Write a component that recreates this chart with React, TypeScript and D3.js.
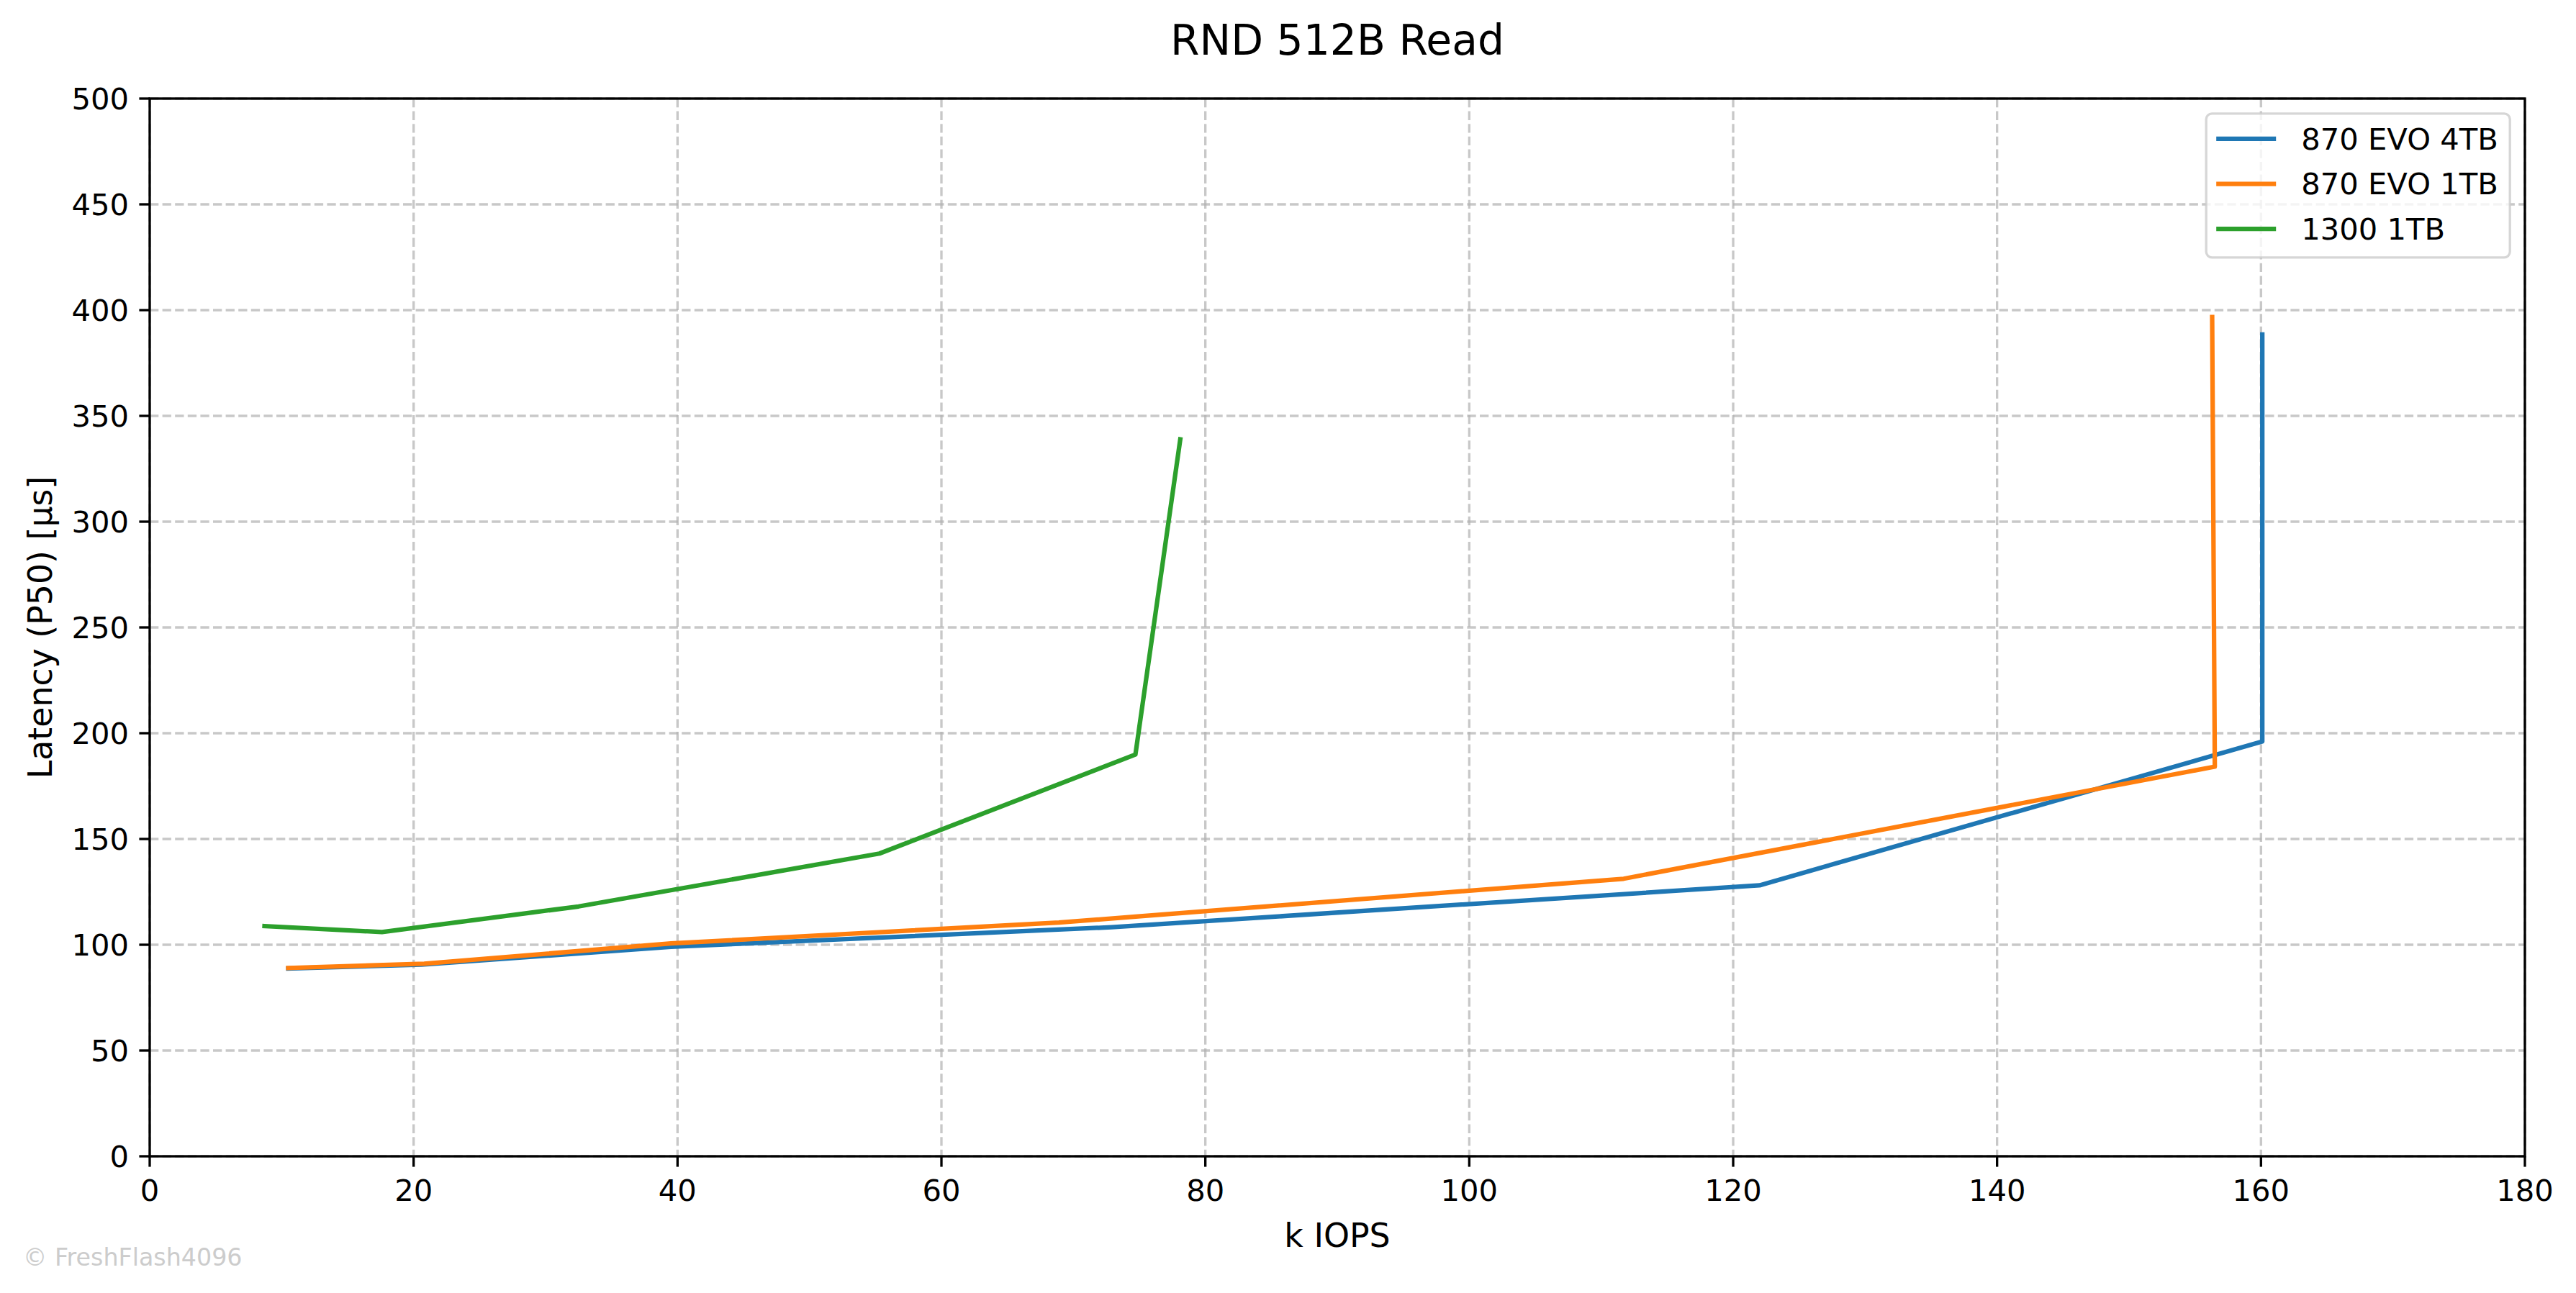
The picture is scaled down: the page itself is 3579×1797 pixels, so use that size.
import React, { useEffect } from 'react';
import * as d3 from 'd3';

const W = 3579, H = 1797;
const plot = { left: 208, right: 3508, top: 137, bottom: 1607 };

// k IOPS / latency [µs]
const evo4tbIops = [10.5, 20.6, 39.5, 72.9, 122.0, 160.1, 160.1];
const evo4tbLat = [88.8, 90.6, 99.0, 108.3, 128.1, 196.1, 388.5];
const evo1tbIops = [10.5, 20.8, 39.5, 68.9, 111.7, 156.5, 156.3];
const evo1tbLat = [89.0, 91.0, 100.6, 110.5, 131.2, 184.2, 396.7];
const s1300Iops = [8.7, 17.6, 32.5, 55.3, 74.7, 78.1];
const s1300Lat = [108.8, 106.0, 118.1, 143.1, 189.9, 338.9];

const seriesNames = ['870 EVO 4TB', '870 EVO 1TB', '1300 1TB'];
const seriesColors = ['#1f77b4', '#ff7f0e', '#2ca02c'];
const seriesX = [evo4tbIops, evo1tbIops, s1300Iops];
const seriesY = [evo4tbLat, evo1tbLat, s1300Lat];

const xTicks = [0, 20, 40, 60, 80, 100, 120, 140, 160, 180];
const yTicks = [0, 50, 100, 150, 200, 250, 300, 350, 400, 450, 500];

const FONT = 'DejaVu Sans, sans-serif';
const fs = 41.7;      // 10pt @ 300dpi
const lw = 6.25;      // 1.5pt
const spineW = 3.33;  // 0.8pt
const tickLen = 14.6;

export default function App() {
    useEffect(() => {
        document.body.style.margin = '0';
    }, []);

    const x = d3.scaleLinear().domain([0, 180]).range([plot.left, plot.right]);
    const y = d3.scaleLinear().domain([0, 500]).range([plot.bottom, plot.top]);

    const line = d3.line<[number, number]>()
        .x(d => x(d[0]))
        .y(d => y(d[1]));

    /* Legend box */
    const legW = 422, legH = 200;
    const legX = plot.right - 20.8 - legW;
    const legY = plot.top + 20.8;

    return (
        <svg width={W} height={H} style={{ display: 'block', background: '#fff' }} fontFamily={FONT}>
            <rect x={0} y={0} width={W} height={H} fill="#fff" />

            {/* Grid */}
            <g stroke="#b0b0b0" strokeOpacity={0.7} strokeWidth={spineW} strokeDasharray="12.3 5.3">
                {xTicks.map(t => (
                    <line key={'gx' + t} x1={x(t)} x2={x(t)} y1={plot.top} y2={plot.bottom} />
                ))}
                {yTicks.map(t => (
                    <line key={'gy' + t} x1={plot.left} x2={plot.right} y1={y(t)} y2={y(t)} />
                ))}
            </g>

            {/* Series */}
            {seriesNames.map((name, i) => (
                <path key={name}
                    d={line(seriesX[i].map((v, j) => [v, seriesY[i][j]]) as [number, number][]) || ''}
                    fill="none" stroke={seriesColors[i]} strokeWidth={lw}
                    strokeLinejoin="round" strokeLinecap="square" />
            ))}

            {/* Spines */}
            <rect x={plot.left} y={plot.top} width={plot.right - plot.left} height={plot.bottom - plot.top}
                fill="none" stroke="#000" strokeWidth={spineW} />

            {/* X ticks */}
            {xTicks.map(t => (
                <g key={'xt' + t}>
                    <line x1={x(t)} x2={x(t)} y1={plot.bottom} y2={plot.bottom + tickLen} stroke="#000" strokeWidth={spineW} />
                    <text x={x(t)} y={plot.bottom + 62} fontSize={fs} textAnchor="middle" fill="#000">{t}</text>
                </g>
            ))}

            {/* Y ticks */}
            {yTicks.map(t => (
                <g key={'yt' + t}>
                    <line x1={plot.left - tickLen} x2={plot.left} y1={y(t)} y2={y(t)} stroke="#000" strokeWidth={spineW} />
                    <text x={plot.left - 29} y={y(t) + 15.2} fontSize={fs} textAnchor="end" fill="#000">{t}</text>
                </g>
            ))}

            {/* Axis labels */}
            <text x={(plot.left + plot.right) / 2} y={1733} fontSize={45.8} textAnchor="middle" fill="#000">k IOPS</text>
            <text transform={`translate(72, ${(plot.top + plot.bottom) / 2}) rotate(-90)`}
                fontSize={45.8} textAnchor="middle" fill="#000">Latency (P50) [µs]</text>

            {/* Title */}
            <text x={(plot.left + plot.right) / 2} y={76} fontSize={58.3} textAnchor="middle" fill="#000">RND 512B Read</text>

            {/* Legend */}
            <rect x={legX} y={legY} width={legW} height={legH} rx={8} ry={8}
                fill="#fff" fillOpacity={0.8} stroke="#cccccc" strokeOpacity={0.8} strokeWidth={spineW} />
            {seriesNames.map((name, i) => {
                const cy = legY + 35 + i * 62.7;
                return (
                    <g key={'lg' + name}>
                        <line x1={legX + 14} x2={legX + 97} y1={cy} y2={cy} stroke={seriesColors[i]} strokeWidth={lw} strokeLinecap="butt" />
                        <text x={legX + 132} y={cy + 14.8} fontSize={fs} fill="#000">{name}</text>
                    </g>
                );
            })}

            {/* Watermark */}
            <text x={32} y={1759} fontSize={33.3} fill="#cccccc">© FreshFlash4096</text>
        </svg>
    );
}
